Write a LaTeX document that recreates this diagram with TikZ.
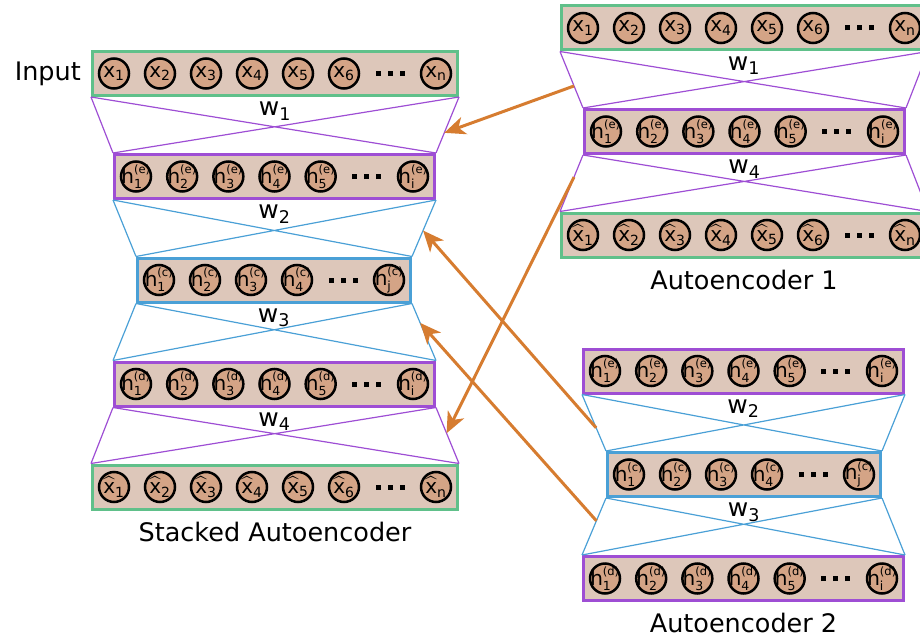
\documentclass[tikz,border=0pt]{standalone}
\usepackage{amsmath}
\usepackage{fontspec}
\setmainfont{DejaVu Sans}
\usetikzlibrary{positioning,calc,arrows.meta}

\definecolor{boxfill}{RGB}{221,199,186}
\definecolor{unitfill}{RGB}{212,164,134}
\definecolor{ingreen}{RGB}{96,192,138}
\definecolor{encpurple}{RGB}{158,78,212}
\definecolor{codeblue}{RGB}{74,160,214}
\definecolor{copyorange}{RGB}{214,124,48}

\newcommand{\xin}[1]{$\text{x}_{\text{#1}}$}
\newcommand{\xout}[1]{$\widehat{\text{x}}_{\text{#1}}$}
\newcommand{\hid}[2]{$\text{h}^{\text{\fontsize{11.5}{12}\selectfont(#1)}}_{\text{\fontsize{12.5}{13}\selectfont#2}}$}

% name, x, y, width, colour, slots, label macro, subscripts
\newcommand{\layer}[8]{%
  \node[layerbox, draw=#5, minimum width=#4] (#1) at (#2,#3) {};
  \pgfmathsetmacro\pitch{(#4-43)/(#6-1)}
  \foreach \s [count=\k] in {#8} {
    \pgfmathtruncatemacro\slot{\k==#6-1 ? #6 : \k}
    \node[unit, label={[unitlbl]center:#7{\s}}] (#1-\k)
      at ([xshift={(23+(\slot-1)*\pitch)*1pt}]#1.west) {};
  }
  \node[dots] (#1-dots) at ([xshift={(23+(#6-2)*\pitch)*1pt}]#1.west)
    {\rule{5pt}{5pt}\hspace{7pt}\rule{5pt}{5pt}\hspace{7pt}\rule{5pt}{5pt}};
}
\newcommand{\weights}[3]{%
  \draw[wire, #3] (#1.south west) -- (#2.north west) (#1.south east) -- (#2.north east)
    (#1.south west) -- (#2.north east) (#1.south east) -- (#2.north west);
}

\tikzset{
  layerbox/.style={rectangle, fill=boxfill, line width=3pt, minimum height=44pt, inner sep=0pt},
  unit/.style={circle, fill=unitfill, draw=black, line width=2.5pt, minimum size=30pt, inner sep=0pt},
  unitlbl/.style={font=\fontsize{20}{24}\selectfont, inner sep=0pt},
  dots/.style={inner sep=0pt},
  wire/.style={line width=1.2pt},
  wlbl/.style={font=\fontsize{25}{28}\selectfont, inner sep=0pt},
  title/.style={font=\fontsize{25.5}{28}\selectfont, inner sep=0pt},
  copy/.style={draw=copyorange, line width=3pt, -{Stealth[length=21pt, width=18pt, inset=6pt]}}
}

\begin{document}
\begin{tikzpicture}[x=1pt, y=-1pt]
  \useasboundingbox (0,0) rectangle (920,639);

  % stacked autoencoder
  \layer{inp}{275}{73.5}{365}{ingreen}{8}{\xin}{1,2,3,4,5,6,n}
  \layer{enc}{274.5}{176.5}{320}{encpurple}{7}{\hid{e}}{1,2,3,4,5,i}
  \layer{code}{274}{280}{273}{codeblue}{6}{\hid{c}}{1,2,3,4,j}
  \layer{dec}{274.5}{384}{320}{encpurple}{7}{\hid{d}}{1,2,3,4,5,i}
  \layer{out}{275}{487}{365}{ingreen}{8}{\xout}{1,2,3,4,5,6,n}
  \weights{inp}{enc}{encpurple}
  \weights{enc}{code}{codeblue}
  \weights{code}{dec}{codeblue}
  \weights{dec}{out}{encpurple}
  \node[title, left=10pt of inp] (inplbl) {Input};
  \node[wlbl, below=5pt of inp] (w1) {$\text{w}_{\text{1}}$};
  \node[wlbl, below=5pt of enc] (w2) {$\text{w}_{\text{2}}$};
  \node[wlbl, below=5pt of code] (w3) {$\text{w}_{\text{3}}$};
  \node[wlbl, below=5pt of dec] (w4) {$\text{w}_{\text{4}}$};
  \node[title, below=11pt of out] (sae) {Stacked Autoencoder};

  % autoencoder 1
  \layer{ae1in}{744}{28}{365}{ingreen}{8}{\xin}{1,2,3,4,5,6,n}
  \layer{ae1enc}{744.5}{131.5}{320}{encpurple}{7}{\hid{e}}{1,2,3,4,5,i}
  \layer{ae1out}{744}{235}{365}{ingreen}{8}{\xout}{1,2,3,4,5,6,n}
  \weights{ae1in}{ae1enc}{encpurple}
  \weights{ae1enc}{ae1out}{encpurple}
  \node[wlbl, below=5pt of ae1in] (ae1w1) {$\text{w}_{\text{1}}$};
  \node[wlbl, below=5pt of ae1enc] (ae1w4) {$\text{w}_{\text{4}}$};
  \node[title, below=11pt of ae1out] (ae1) {Autoencoder 1};

  % autoencoder 2
  \layer{ae2enc}{743.5}{371}{320}{encpurple}{7}{\hid{e}}{1,2,3,4,5,i}
  \layer{ae2code}{744}{474.5}{273}{codeblue}{6}{\hid{c}}{1,2,3,4,j}
  \layer{ae2dec}{743.5}{578.5}{320}{encpurple}{7}{\hid{d}}{1,2,3,4,5,i}
  \weights{ae2enc}{ae2code}{codeblue}
  \weights{ae2code}{ae2dec}{codeblue}
  \node[wlbl, below=5pt of ae2enc] (ae2w2) {$\text{w}_{\text{2}}$};
  \node[wlbl, below=5pt of ae2code] (ae2w3) {$\text{w}_{\text{3}}$};
  \node[title, below=11pt of ae2dec] (ae2) {Autoencoder 2};

  % copied weights
  \coordinate (c1s) at ($(ae1in.south west)!0.61!(ae1enc.north west)$);
  \coordinate (c1e) at ($(inp.south east)!0.64!(enc.north east)$);
  \coordinate (c2s) at ($(ae1enc.south west)!0.39!(ae1out.north west)$);
  \coordinate (c2e) at ($(dec.south east)!0.46!(out.north east)$);
  \coordinate (c3s) at ($(ae2enc.south west)!0.59!(ae2code.north west)$);
  \coordinate (c3e) at ($(enc.south east)!0.54!(code.north east)$);
  \coordinate (c4s) at ($(ae2code.south west)!0.40!(ae2dec.north west)$);
  \coordinate (c4e) at ($(code.south east)!0.34!(dec.north east)$);
  \draw[copy] (c1s) -- (c1e);
  \draw[copy] (c2s) -- (c2e);
  \draw[copy] (c3s) -- (c3e);
  \draw[copy] (c4s) -- (c4e);
\end{tikzpicture}
\end{document}
